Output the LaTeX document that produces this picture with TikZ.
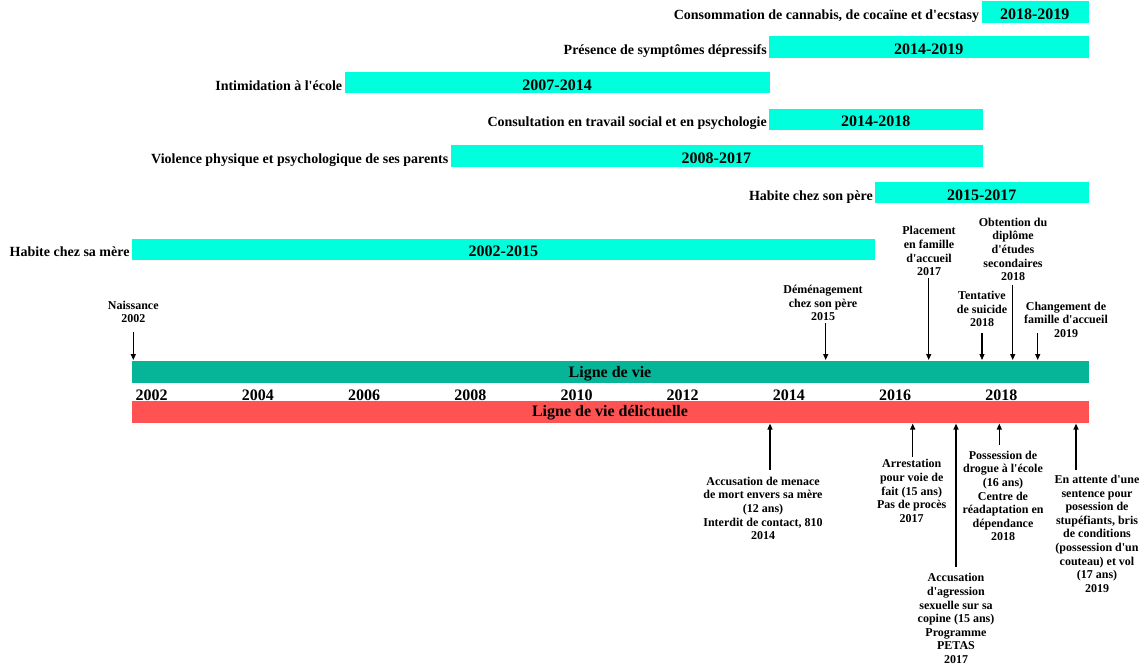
\documentclass[tikz,border=0pt]{standalone}
\usepackage{fontspec}
\setmainfont{Liberation Serif}[Ligatures=TeXOff]
\usetikzlibrary{arrows.meta}
\definecolor{barcyan}{RGB}{0,255,221}
\definecolor{lifegreen}{RGB}{6,181,152}
\definecolor{crimered}{RGB}{255,82,82}
\tikzset{
  periodbar/.style={fill=barcyan, draw=none, inner sep=0pt, minimum height=21.5pt, anchor=north west},
  perlabel/.style={font=\bfseries\fontsize{14}{16}\selectfont, inner sep=0pt, anchor=base east},
  peryears/.style={font=\bfseries\fontsize{16}{18}\selectfont, inner sep=0pt, anchor=base},
  axisyear/.style={font=\bfseries\fontsize{16}{18}\selectfont, inner sep=0pt, anchor=base},
  linebar/.style={draw=none, inner sep=0pt, minimum height=21.7pt, minimum width=956.6pt, anchor=north west},
  linetext/.style={font=\bfseries\fontsize{16}{18}\selectfont, inner sep=0pt, anchor=base},
  evt/.style={font=\bfseries\fontsize{12}{13.6}\selectfont, align=center, inner sep=0pt},
  arr/.style={line width=1.2pt, -{Triangle[length=6pt,width=5pt]}},
}
\newcommand\tlperiod[6]{%
  \node[periodbar, minimum width={#3pt-#2pt}] (#1) at (#2,#4) {};
  \node[perlabel] (#1-label) at ({#2-2},{#4+18.4}) {#5};
  \node[peryears] (#1-years) at ({(#2+#3)/2},{#4+18.4}) {#6};
}
\begin{document}
\begin{tikzpicture}[x=1pt,y=-1pt]
\path[use as bounding box] (0,0) rectangle (1147,665);

% periods
\tlperiod{cons}{981.3}{1088.3}{1}{Consommation de cannabis, de cocaïne et d'ecstasy}{2018-2019}
\tlperiod{pres}{769}{1088.3}{36}{Présence de symptômes dépressifs}{2014-2019}
\tlperiod{intim}{344.3}{770}{71.7}{Intimidation à l'école}{2007-2014}
\tlperiod{consult}{769}{982.3}{108.3}{Consultation en travail social et en psychologie}{2014-2018}
\tlperiod{viol}{450.5}{982.3}{145}{Violence physique et psychologique de ses parents}{2008-2017}
\tlperiod{pere}{875}{1088.3}{181.7}{Habite chez son père}{2015-2017}
\tlperiod{mere}{131.7}{875}{238.3}{Habite chez sa mère}{2002-2015}

% life lines
\node[linebar, fill=lifegreen] (life) at (131.7,361) {};
\node[linetext] (life-text) at (610,377.5) {Ligne de vie};
\node[linebar, fill=crimered] (crime) at (131.7,401) {};
\node[linetext] (crime-text) at (610,416.3) {Ligne de vie délictuelle};

% axis years
\foreach \k in {0,...,8} {
  \pgfmathtruncatemacro\yr{2002+2*\k}
  \node[axisyear] (year\k) at ({151.7+106.2*\k},400) {\yr};
}

% life events (above)
\node[evt, anchor=south] (naiss) at (133.3,323.3) {Naissance\\2002};
\node[evt, anchor=south] (dem) at (823,321) {Déménagement\\chez son père\\2015};
\node[evt, anchor=south] (plac) at (929,276) {Placement\\en famille\\d'accueil\\2017};
\node[evt, anchor=south] (tent) at (982,327.3) {Tentative\\de suicide\\2018};
\node[evt, anchor=south] (obt) at (1013,281) {Obtention du\\diplôme\\d'études\\secondaires\\2018};
\node[evt, anchor=south] (chg) at (1066,337.7) {Changement de\\famille d'accueil\\2019};

\coordinate (naiss-a) at (133.3,331.7);
\coordinate (dem-a) at (825.7,323.3);
\coordinate (plac-a) at (928.7,278.3);
\coordinate (tent-a) at (982,333);
\coordinate (obt-a) at (1012.7,285);
\coordinate (chg-a) at (1037.7,333.3);
\foreach \c in {naiss,dem,plac,tent,obt,chg}
  \draw[arr, shorten >=1pt] (\c-a) -- (\c-a |- life.north);

% offence events (below)
\node[evt, anchor=north] (menace) at (763,476.7) {Accusation de menace\\de mort envers sa mère\\(12 ans)\\Interdit de contact, 810\\2014};
\node[evt, anchor=north] (arrest) at (911.7,459.3) {Arrestation\\pour voie de\\fait (15 ans)\\Pas de procès\\2017};
\node[evt, anchor=north] (agress) at (956,573.3) {Accusation\\d'agression\\sexuelle sur sa\\copine (15 ans)\\Programme\\PETAS\\2017};
\node[evt, anchor=north] (poss) at (1003,450.7) {Possession de\\drogue à l'école\\(16 ans)\\Centre de\\réadaptation en\\dépendance\\2018};
\node[evt, anchor=north] (attente) at (1097,475) {En attente d'une\\sentence pour\\posession de\\stupéfiants, bris\\de conditions\\(possession d'un\\couteau) et vol\\(17 ans)\\2019};

\coordinate (menace-a) at (770,470);
\coordinate (arrest-a) at (912.7,456.7);
\coordinate (agress-a) at (956,567);
\coordinate (poss-a) at (999.3,445);
\coordinate (attente-a) at (1076,470);
\foreach \c in {menace,arrest,agress,poss,attente}
  \draw[arr, shorten >=0.5pt] (\c-a) -- (\c-a |- crime.south);
\end{tikzpicture}
\end{document}
